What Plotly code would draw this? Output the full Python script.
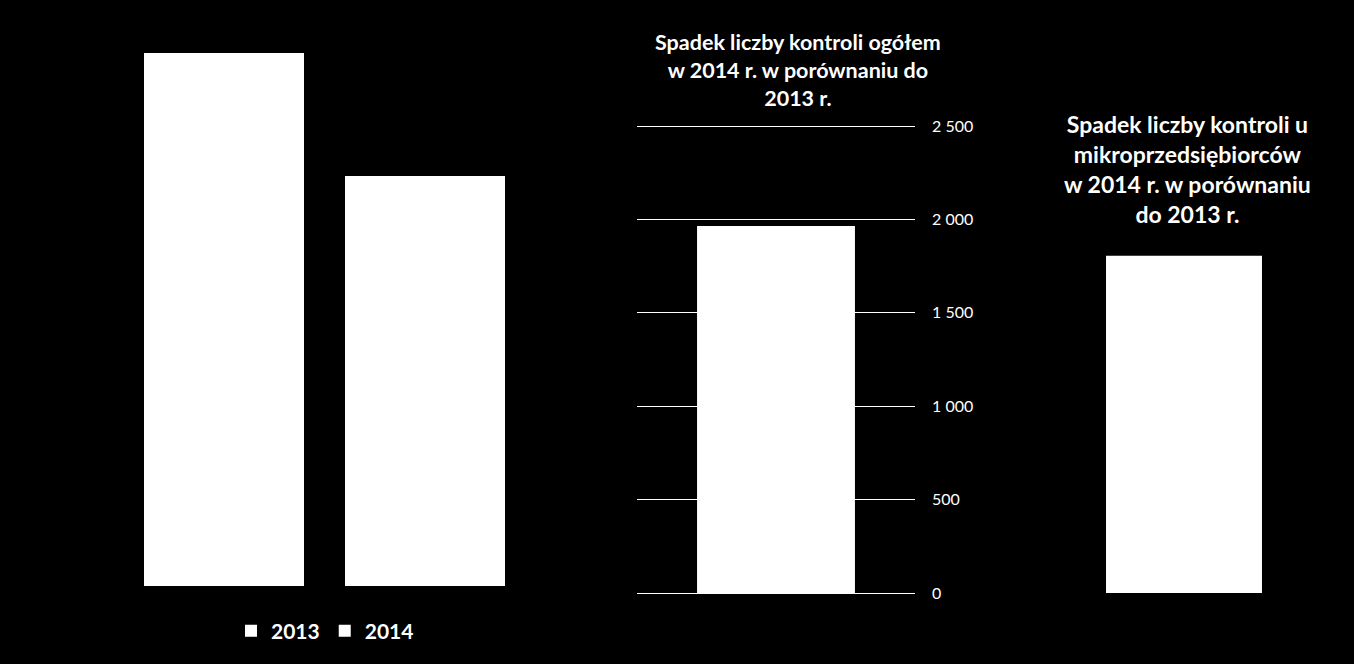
import plotly.graph_objects as go

W, H = 1354, 664

# ---- data ----
years = ["2013", "2014"]
total_controls = [8520, 6555]          # left chart (no visible axis, estimated)
decrease_total = [1965]                # middle chart
decrease_micro = [1805]                # right chart
y_tickvals = [0, 500, 1000, 1500, 2000, 2500]
y_ticktext = ["0", "500", "1 000", "1 500", "2 000", "2 500"]
title_mid = "Spadek liczby kontroli ogółem<br>w 2014 r. w porównaniu do<br>2013 r."
title_right = "Spadek liczby kontroli u<br>mikroprzedsiębiorców<br>w 2014 r. w porównaniu<br>do 2013 r."

FONT = "Lato"


def fx(px):
    return px / W


def fy(py):
    return 1 - py / H


fig = go.Figure()

# left chart: one trace per year
for yr, v in zip(years, total_controls):
    fig.add_trace(go.Bar(
        x=[yr], y=[v], name=yr, xaxis="x", yaxis="y",
        marker=dict(color="white", line=dict(width=0)),
        width=0.796, showlegend=True,
    ))

# middle chart
fig.add_trace(go.Bar(
    x=[""], y=decrease_total, xaxis="x2", yaxis="y2",
    marker=dict(color="white", line=dict(width=0)),
    width=0.568, showlegend=False,
))

# right chart
fig.add_trace(go.Bar(
    x=[""], y=decrease_micro, xaxis="x3", yaxis="y3",
    marker=dict(color="white", line=dict(width=0)),
    width=0.561, showlegend=False,
))

hidden = dict(showgrid=False, zeroline=False, showticklabels=False,
              showline=False, ticks="")

pad = 10.7  # keeps the edge gridlines (0 and 2500) from being clipped
yrange = [-pad, 2500 + pad]

fig.update_layout(
    width=W, height=H,
    margin=dict(l=0, r=0, t=0, b=0, autoexpand=False),
    paper_bgcolor="black", plot_bgcolor="black",
    barmode="overlay",
    font=dict(family=FONT, color="white"),
    xaxis=dict(domain=[fx(123.5), fx(525.5)], range=[-0.5, 1.5],
               type="category", **hidden),
    yaxis=dict(domain=[fy(586), fy(53)], range=[0, total_controls[0]], **hidden),
    xaxis2=dict(domain=[fx(637), fx(915)], range=[-0.5, 0.5],
                type="category", **hidden),
    yaxis2=dict(domain=[fy(595), fy(124)], range=yrange, anchor="x2",
                side="right", tickvals=y_tickvals, ticktext=y_ticktext,
                showgrid=True, gridcolor="white", gridwidth=1,
                zeroline=False, showline=False, ticks="",
                ticklabelstandoff=16, automargin=False,
                tickfont=dict(family=FONT, size=16, color="white")),
    xaxis3=dict(domain=[fx(1045), fx(1323)], range=[-0.5, 0.5],
                type="category", **hidden),
    yaxis3=dict(domain=[fy(595), fy(124)], range=yrange, anchor="x3",
                **hidden),
    legend=dict(orientation="h", x=fx(325), xanchor="center",
                y=fy(631), yanchor="middle",
                font=dict(family=FONT, size=21, color="white", weight="bold"),
                bgcolor="rgba(0,0,0,0)", itemwidth=30, tracegroupgap=0),
    annotations=[
        dict(text=title_mid, x=fx(798), y=fy(27), xref="paper", yref="paper",
             xanchor="center", yanchor="top", showarrow=False, align="center",
             font=dict(family=FONT, size=21.5, color="white", weight="bold")),
        dict(text=title_right, x=fx(1187), y=fy(108), xref="paper", yref="paper",
             xanchor="center", yanchor="top", showarrow=False, align="center",
             font=dict(family=FONT, size=23, color="white", weight="bold")),
    ],
)

fig.write_html("out.html")
